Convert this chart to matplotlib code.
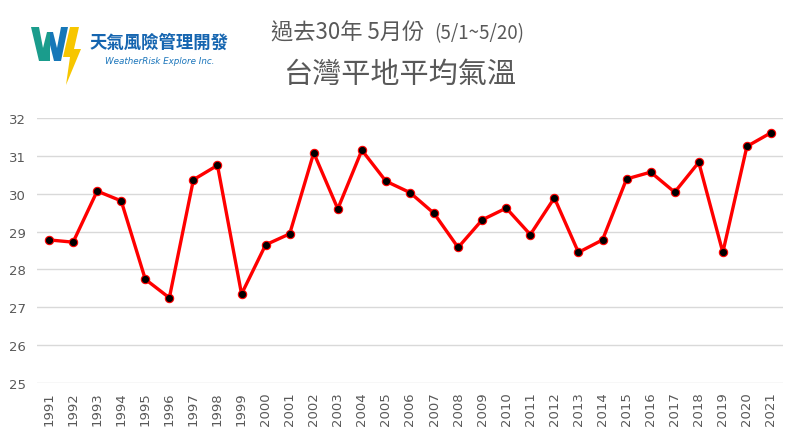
import matplotlib
matplotlib.use("Agg")
import matplotlib.pyplot as plt
from matplotlib.patches import Polygon

years = [str(y) for y in range(1991, 2022)]
temps = [28.78, 28.72, 30.07, 29.81, 27.74, 27.25, 30.37, 30.75, 27.35, 28.65,
         28.94, 31.08, 29.60, 31.15, 30.33, 30.03, 29.48, 28.58, 29.31, 29.62,
         28.92, 29.89, 28.45, 28.78, 30.39, 30.57, 30.04, 30.83, 28.45, 31.25,
         31.61]
yticks = [25, 26, 27, 28, 29, 30, 31, 32]

W, H = 800, 439
fig = plt.figure(figsize=(W / 100, H / 100), dpi=100)
fig.patch.set_facecolor("white")

ax = fig.add_axes([37 / W, (H - 384) / H, 746 / W, 265 / H])
x = list(range(len(years)))
ax.plot(x, temps, color="#ff0000", lw=2.4, marker="o", markersize=6,
        markerfacecolor="black", markeredgecolor="#ff0000", markeredgewidth=0.8,
        zorder=3)
ax.set_xlim(-0.5, len(years) - 0.5)
ax.set_ylim(25, 32)
ax.set_yticks(yticks)
ax.set_yticklabels([str(t) for t in yticks])
ax.set_xticks(x)
ax.set_xticklabels(years, rotation=90)
ax.grid(axis="y", color="#d9d9d9", lw=1.0)
ax.set_axisbelow(True)
for s in ax.spines.values():
    s.set_visible(False)
ax.tick_params(axis="both", length=0, labelsize=9.5, labelcolor="#595959")
ax.tick_params(axis="x", pad=6)
ax.tick_params(axis="y", pad=8)

# Titles
cjk = ["Noto Sans CJK TC", "DejaVu Sans"]
fig.text(429 / W, 1 - 33 / H, "過去30年 5月份 ", ha="right", va="center",
         fontsize=16, fontweight="medium", color="#595959", family=cjk)
fig.text(434 / W, 1 - 34 / H, "(5/1~5/20)", ha="left", va="center",
         fontsize=13.5, fontweight="medium", color="#595959", family=cjk)
fig.text(400 / W, 1 - 75 / H, "台灣平地平均氣溫", ha="center", va="center",
         fontsize=21, fontweight="medium", color="#595959", family=cjk)

# Logo (pixel coords, y downward)
def px_poly(pts, color):
    pts2 = [(a / W, 1 - b / H) for a, b in pts]
    fig.patches.append(Polygon(pts2, closed=True, facecolor=color,
                               edgecolor="none", transform=fig.transFigure))

px_poly([(31, 28), (39, 28), (43, 49), (47, 33), (50, 33), (50, 62), (39, 62)], "#1a9c8c")
px_poly([(50, 33), (53, 33), (57, 49), (61, 28), (68, 28), (61, 62), (54, 62), (50, 46)], "#1677b8")
px_poly([(70, 28), (79, 28), (74, 50), (81, 50), (66, 86), (70, 58), (63, 58)], "#f7c600")

fig.text(90 / W, 1 - 43 / H, "天氣風險管理開發", ha="left", va="center",
         fontsize=12.5, fontweight="bold", color="#1565b0", family=cjk)
fig.text(105 / W, 1 - 61 / H, "WeatherRisk Explore Inc.", ha="left", va="center",
         fontsize=6.3, style="italic", color="#1a75bb", family=["DejaVu Sans"])

fig.savefig("out.png", dpi=100)
